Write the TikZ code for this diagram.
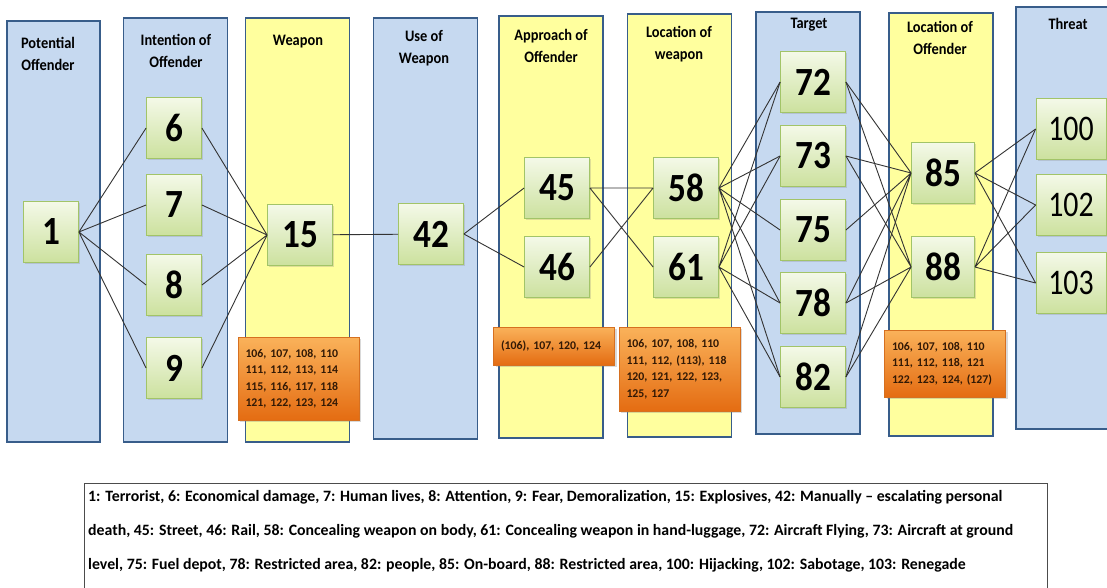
\documentclass[tikz,border=0pt]{standalone}
\usepackage{fontspec}
\setmainfont{Carlito}
\newfontfamily\headfont{Carlito}[FakeStretch=0.9]
\newfontfamily\numfont{Carlito}[FakeStretch=0.88]
\newfontfamily\narrowfont{Carlito}[FakeStretch=0.83]
\usepackage{xcolor}
\usetikzlibrary{
    positioning,
    shadows
}
\definecolor{colblue}{RGB}{198,217,240}
\definecolor{colyellow}{RGB}{255,255,158}
\definecolor{colframe}{RGB}{56,93,138}
\definecolor{boxtop}{RGB}{244,249,232}
\definecolor{boxbottom}{RGB}{204,225,158}
\definecolor{boxframe}{RGB}{162,196,104}
\definecolor{tagtop}{RGB}{250,178,90}
\definecolor{tagbottom}{RGB}{228,108,18}
\definecolor{tagframe}{RGB}{214,112,32}
\definecolor{tagtext}{RGB}{50,25,5}

\begin{document}
\begin{tikzpicture}[x=1pt, y=-1pt,
    bluecol/.style={draw=colframe, line width=1.6pt, fill=colblue, minimum width=104pt, minimum height=422pt, inner sep=0pt},
    yellowcol/.style={bluecol, fill=colyellow},
    colhead/.style={align=center, font=\headfont\bfseries\fontsize{16}{22}\selectfont},
    numbox/.style={draw=boxframe, line width=0.8pt, top color=boxtop, bottom color=boxbottom, minimum width=65pt, minimum height=61pt, inner sep=0pt, font=\numfont\bfseries\fontsize{40}{40}\selectfont, drop shadow={shadow xshift=1.5pt, shadow yshift=-1.5pt, opacity=0.25}},
    smallnum/.style={numbox, minimum width=55pt},
    widenum/.style={numbox, minimum width=70pt, font=\narrowfont\fontsize{36}{36}\selectfont},
    tagbox/.style={draw=tagframe, line width=0.8pt, top color=tagtop, bottom color=tagbottom, text width=106pt, inner xsep=7.5pt, align=left, text=tagtext, font=\bfseries\fontsize{11.8}{16.5}\selectfont, drop shadow={shadow xshift=2pt, shadow yshift=-2pt, opacity=0.3}},
    link/.style={draw=black!80, line width=0.9pt}
]
\useasboundingbox (0,0) rectangle (1107,587);

\node[bluecol, minimum width=93pt, minimum height=421pt] (colpot) at (53.5,231.5) {};
\node[bluecol, minimum height=424pt] (colint) at (175.5,230) {};
\node[yellowcol, minimum height=424pt] (colweap) at (297.5,230) {};
\node[bluecol, minimum height=421pt] (coluse) at (425.5,228.5) {};
\node[yellowcol] (colappr) at (551,227) {};
\node[yellowcol, minimum height=423pt] (colloc) at (679.5,225.5) {};
\node[bluecol] (coltarg) at (808,223) {};
\node[yellowcol, minimum height=423pt] (coloff) at (941,224.5) {};
\node[bluecol] (colthr) at (1068,218) {};

\node[colhead] (hpot) at (48,54) {Potential\\Offender};
\node[colhead] (hint) at (176,51) {Intention of\\Offender};
\node[colhead] (hweap) at (298,42) {Weapon};
\node[colhead] (huse) at (424,48) {Use of\\Weapon};
\node[colhead] (happr) at (551,46) {Approach of\\Offender};
\node[colhead] (hloc) at (679,44) {Location of\\weapon};
\node[colhead] (htarg) at (809,25) {Target};
\node[colhead] (hoff) at (940,38) {Location of\\Offender};
\node[colhead] (hthr) at (1068,24) {Threat};

\node[smallnum] (n1) at (51,232) {1};
\node[smallnum] (n6) at (174,128) {6};
\node[smallnum] (n7) at (174,205) {7};
\node[smallnum] (n8) at (174,285) {8};
\node[smallnum] (n9) at (174,368) {9};
\node[numbox] (n15) at (300,235) {15};
\node[numbox] (n42) at (431,234) {42};
\node[numbox] (n45) at (557,188) {45};
\node[numbox] (n46) at (557,267) {46};
\node[numbox] (n58) at (686,188) {58};
\node[numbox] (n61) at (686,267) {61};
\node[numbox] (n72) at (813,82) {72};
\node[numbox] (n73) at (813,156) {73};
\node[numbox] (n75) at (813,230) {75};
\node[numbox] (n78) at (813,303) {78};
\node[numbox] (n82) at (813,377) {82};
\node[numbox, minimum width=63pt] (n85) at (943,173) {85};
\node[numbox, minimum width=63pt] (n88) at (943,267) {88};
\node[widenum] (n100) at (1071,129) {100};
\node[widenum] (n102) at (1071,205) {102};
\node[widenum] (n103) at (1071,283) {103};

\node[tagbox, minimum height=83pt] (tagweap) at (298.5,378.5) {106, 107, 108, 110\\111, 112, 113, 114\\115, 116, 117, 118\\121, 122, 123, 124};
\node[tagbox, minimum height=38pt] (tagappr) at (554,346) {(106), 107, 120, 124};
\node[tagbox, minimum height=84pt] (tagloc) at (679.5,369) {106, 107, 108, 110\\111, 112, (113), 118\\120, 121, 122, 123,\\125, 127};
\node[tagbox, minimum height=67pt] (tagoff) at (945,363.5) {106, 107, 108, 110\\111, 112, 118, 121\\122, 123, 124, (127)};

\draw[link] (n1.east) -- (n6.west) (n1.east) -- (n7.west) (n1.east) -- (n8.west) (n1.east) -- (n9.west);
\draw[link] (n6.east) -- (n15.west) (n7.east) -- (n15.west) (n8.east) -- (n15.west) (n9.east) -- (n15.west);
\draw[link] (n15) -- (n42);
\draw[link] (n42.east) -- (n45.west) (n42.east) -- (n46.west);
\draw[link] (n45.east) -- (n58.west) (n45.east) -- (n61.west) (n46.east) -- (n58.west);
\draw[link] (n58.east) -- (n72.west) (n58.east) -- (n73.west) (n58.east) -- (n75.west) (n58.east) -- (n78.west) (n58.east) -- (n82.west);
\draw[link] (n61.east) -- (n72.west) (n61.east) -- (n73.west) (n61.east) -- (n78.west) (n61.east) -- (n82.west);
\draw[link] (n72.east) -- (n85.west) (n73.east) -- (n85.west) (n75.east) -- (n85.west) (n78.east) -- (n85.west) (n82.east) -- (n85.west);
\draw[link] (n72.east) -- (n88.west) (n73.east) -- (n88.west) (n78.east) -- (n88.west) (n82.east) -- (n88.west);
\draw[link] (n85.east) -- (n100.west) (n85.east) -- (n102.west) (n85.east) -- (n103.west);
\draw[link] (n88.east) -- (n100.west) (n88.east) -- (n102.west) (n88.east) -- (n103.west);

\node[draw=black!70, line width=0.8pt, anchor=north west, minimum width=963pt, minimum height=130pt, inner sep=0pt] (legendbox) at (84,483) {};
\node[anchor=north west, align=left, inner sep=0pt, font=\bfseries\fontsize{15.8}{34}\selectfont] (legend) at (88,490) {1: Terrorist, 6: Economical damage, 7: Human lives, 8: Attention, 9: Fear, Demoralization, 15: Explosives, 42: Manually -- escalating personal\\death, 45: Street, 46: Rail, 58: Concealing weapon on body, 61: Concealing weapon in hand-luggage, 72: Aircraft Flying, 73: Aircraft at ground\\level, 75: Fuel depot, 78: Restricted area, 82: people, 85: On-board, 88: Restricted area, 100: Hijacking, 102: Sabotage, 103: Renegade};
\end{tikzpicture}
\end{document}
